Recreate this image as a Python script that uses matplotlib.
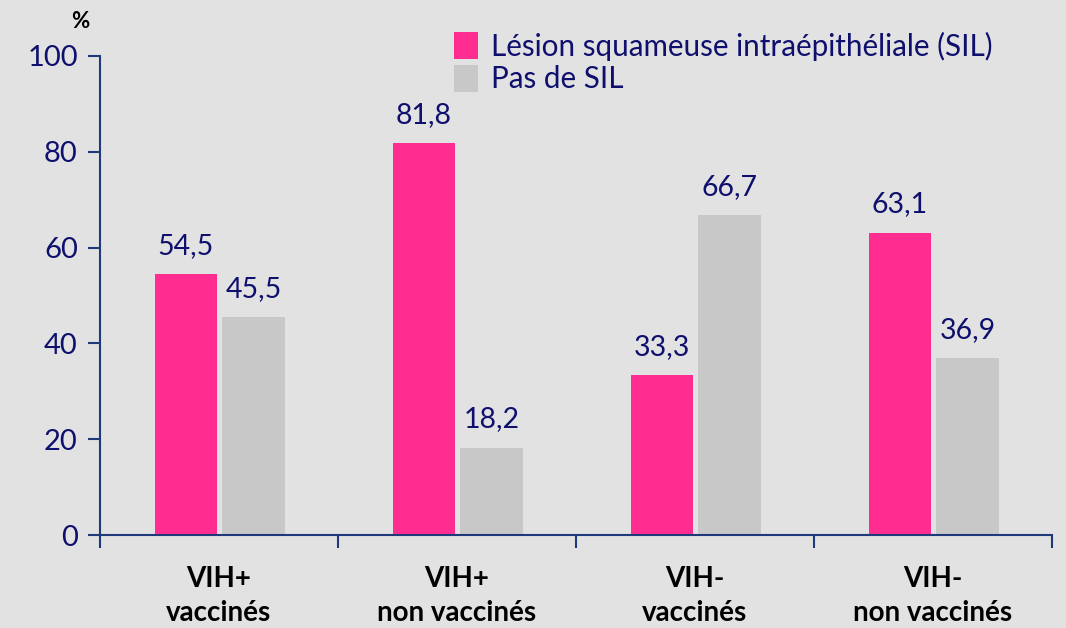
import matplotlib.pyplot as plt
import numpy as np

categories = ["VIH+\nvaccinés", "VIH+\nnon vaccinés", "VIH-\nvaccinés", "VIH-\nnon vaccinés"]
sil = [54.5, 81.8, 33.3, 63.1]
pas_sil = [45.5, 18.2, 66.7, 36.9]
series_names = ["Lésion squameuse intraépithéliale (SIL)", "Pas de SIL"]

pink = "#ff2d8f"
grey = "#c8c8c8"
navy = "#0f0f6e"
axis_col = "#1f3a7a"

plt.rcParams['font.family'] = ['Lato', 'DejaVu Sans']

fig = plt.figure(figsize=(10.66, 6.28), dpi=100, facecolor="#e2e2e2")
ax = fig.add_axes([0.0938, 0.148, 0.893, 0.763])
ax.set_facecolor("none")

x = np.arange(len(categories))
b1 = ax.bar(x - 0.139, sil, width=0.26, color=pink, label=series_names[0])
b2 = ax.bar(x + 0.145, pas_sil, width=0.265, color=grey, label=series_names[1])

for bars, vals in ((b1, sil), (b2, pas_sil)):
    for r, v in zip(bars, vals):
        ax.text(r.get_x() + r.get_width() / 2, v + 3.2, f"{v:.1f}".replace(".", ","),
                ha="center", va="bottom", fontsize=20.5, color=navy)

ax.set_xlim(-0.5, 3.5)
ax.set_ylim(0, 100)
ax.set_yticks(range(0, 101, 20))
ax.tick_params(axis="y", colors=axis_col, labelcolor=navy, labelsize=21,
               length=9, width=1.5, direction="out", pad=7)
ax.set_xticks(np.arange(-0.5, 3.6, 1))
ax.set_xticklabels([])
ax.tick_params(axis="x", colors=axis_col, length=9, width=1.5, direction="out")
for i, c in enumerate(categories):
    ax.text(i, -6.4, c, ha="center", va="top", fontsize=20, fontweight="bold",
            color="black", linespacing=1.38, transform=ax.transData, clip_on=False)

for s in ("top", "right"):
    ax.spines[s].set_visible(False)
for s in ("left", "bottom"):
    ax.spines[s].set_color(axis_col)
    ax.spines[s].set_linewidth(1.5)

ax.text(-0.545, 105, "%", ha="right", va="bottom", fontsize=16, fontweight="bold", color="black")

leg = ax.legend(loc="upper left", bbox_to_anchor=(0.35, 1.094), frameon=False,
                fontsize=21.3, handlelength=0.8, handleheight=1.0, handletextpad=0.45,
                labelspacing=0.15, borderpad=0.2)
for t in leg.get_texts():
    t.set_color(navy)

fig.savefig("out.png", dpi=100, facecolor=fig.get_facecolor())
